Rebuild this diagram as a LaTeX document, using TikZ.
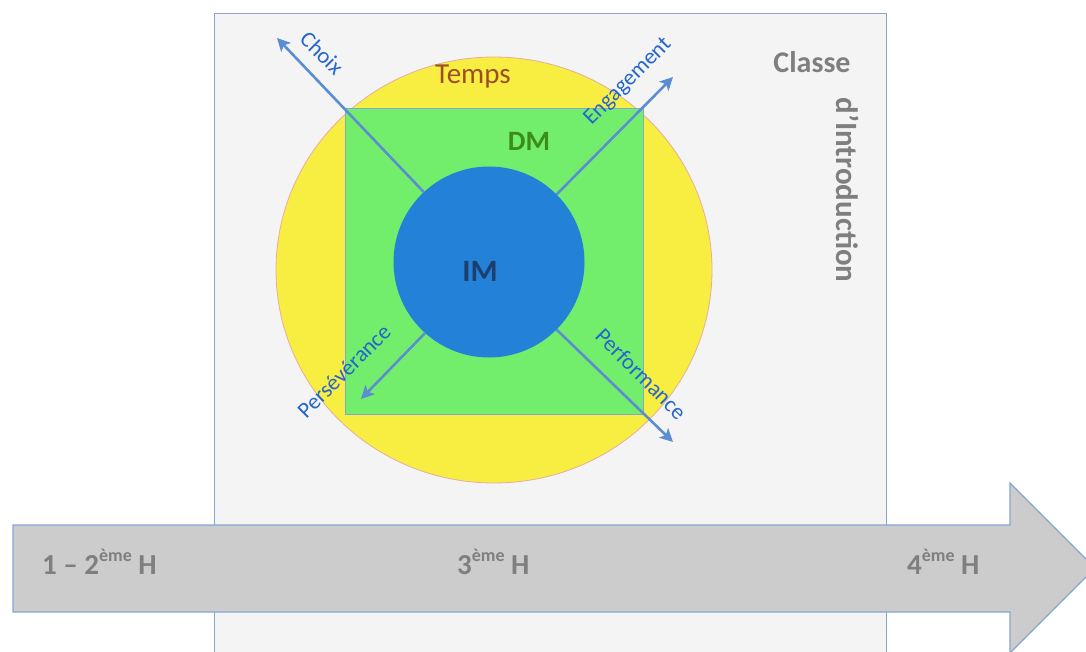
\documentclass[tikz,border=0pt]{standalone}
\usepackage{fontspec}
\setmainfont{Carlito}
\usetikzlibrary{shapes.geometric,arrows.meta}

\definecolor{panelfill}{HTML}{F4F4F4}
\definecolor{edgeblue}{HTML}{86A6D0}
\definecolor{timeyellow}{HTML}{F8EE42}
\definecolor{timeedge}{HTML}{E6AE9C}
\definecolor{dmgreen}{HTML}{72EE6C}
\definecolor{imblue}{HTML}{2481D8}
\definecolor{axisblue}{HTML}{5B8ED0}
\definecolor{axistext}{HTML}{2566CC}
\definecolor{tempsbrown}{HTML}{9C4F24}
\definecolor{dmtext}{HTML}{3C8C1C}
\definecolor{imtext}{HTML}{1C3F6E}
\definecolor{graytext}{HTML}{7F7F7F}
\definecolor{bararrow}{HTML}{CCCCCC}

\newcommand{\fsz}[1]{\fontsize{#1}{#1}\selectfont}
\newcommand{\exposant}[1]{\raisebox{0.42em}{\fsz{18}#1}}

\tikzset{
  zone/.style={inner sep=0pt, outer sep=0pt},
  axis/.style={draw=axisblue, line width=2.6pt, -{Stealth[length=13pt,width=13pt,inset=3pt]}},
  axislabel/.style={text=axistext, font=\fsz{22.5}, inner sep=0pt},
  hourlabel/.style={text=graytext, font=\fsz{29}\bfseries, inner sep=0pt, anchor=base west},
}

\begin{document}
\begin{tikzpicture}[x=1pt,y=-1pt]
\useasboundingbox (0,0) rectangle (1086,652);
\clip (0,0) rectangle (1086,652);
\fill[white] (0,0) rectangle (1086,652);

% class panel
\node[zone, rectangle, draw=edgeblue, line width=0.9pt, fill=panelfill,
      minimum width=672, minimum height=700, anchor=north west] (classe) at (214,13) {};

% time zone, decision zone, intrinsic motivation
\node[zone, ellipse, draw=timeedge, line width=0.8pt, fill=timeyellow,
      minimum width=436, minimum height=426] (tempszone) at (494,270) {};
\node[zone, rectangle, draw=edgeblue, line width=1pt, fill=dmgreen,
      minimum width=298, minimum height=305] (dmzone) at (494,261.5) {};
\node[zone, circle, fill=imblue, minimum size=191] (im) at (489,262) {};

\node[text=tempsbrown, font=\fsz{29}, inner sep=0pt] (temps) at (473,77) {Temps};
\node[text=dmtext, font=\fsz{28}\bfseries, inner sep=0pt] (dm) at (529,141) {DM};
\node[text=imtext, font=\fsz{31}\bfseries, inner sep=0pt] (imlabel) at (480,271) {IM};

% the four axes
\coordinate (choixend) at (277,38);
\coordinate (engend) at (673,77);
\coordinate (persend) at (361,399);
\coordinate (perfend) at (673,442);
\draw[axis] (im.133) -- (choixend);
\draw[axis] (im.45) -- (engend);
\draw[axis] (im.228) -- (persend);
\draw[axis] (im.315) -- (perfend);

\node[axislabel, rotate=-45] (choix) at (322,53) {Choix};
\node[axislabel, rotate=45] (engagement) at (628,82) {Engagement};
\node[axislabel, rotate=45] (perseverance) at (344,371) {Persévérance};
\node[axislabel, rotate=-45] (performance) at (641,374) {Performance};

% panel title
\node[text=graytext, font=\fsz{30}\bfseries, inner sep=0pt] (classetitre) at (812,62) {Classe};
\node[text=graytext, font=\fsz{31}\bfseries, inner sep=0pt, rotate=-90] (intro) at (848,190) {d’Introduction};

% timeline arrow
\coordinate (tl1) at (13,525);
\coordinate (tl2) at (1010,525);
\coordinate (tl3) at (1010,483);
\coordinate (tltip) at (1095,568);
\coordinate (tl4) at (1010,653);
\coordinate (tl5) at (1010,612);
\coordinate (tl6) at (13,612);
\draw[draw=edgeblue, line width=1.2pt, fill=bararrow, line join=miter]
  (tl1) -- (tl2) -- (tl3) -- (tltip) -- (tl4) -- (tl5) -- (tl6) -- cycle;

\node[hourlabel] (h12) at (42,574) {1 – 2\exposant{ème} H};
\node[hourlabel] (h3) at (457,574) {3\exposant{ème} H};
\node[hourlabel] (h4) at (907,574) {4\exposant{ème} H};
\end{tikzpicture}
\end{document}
